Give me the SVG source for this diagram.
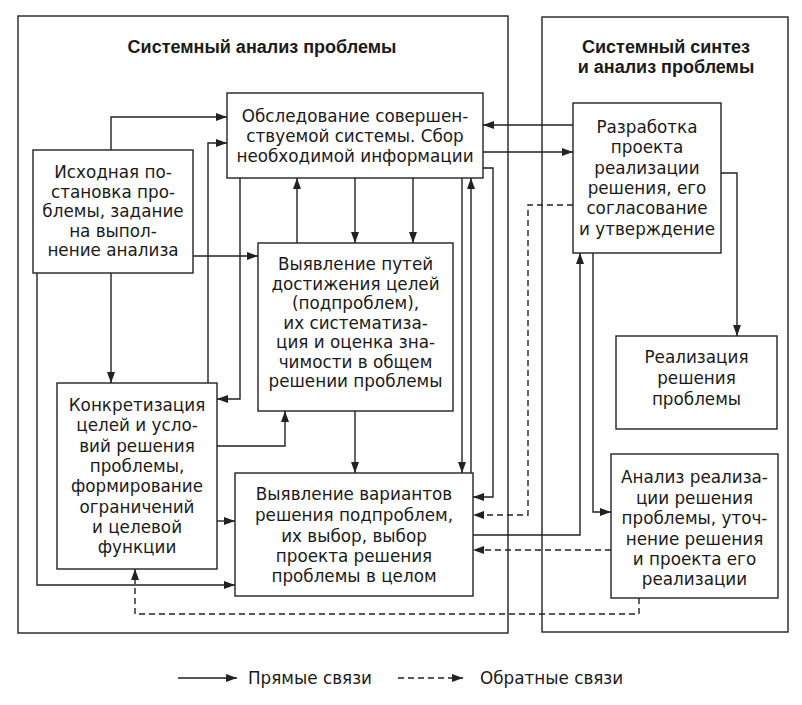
<svg xmlns="http://www.w3.org/2000/svg" width="802" height="705" viewBox="0 0 802 705">
<style>
.frame{fill:none;stroke:#222;stroke-width:1.4}
.box{fill:#fff;stroke:#222;stroke-width:1.4}
.t{font-family:"DejaVu Sans","Liberation Sans",sans-serif;font-size:16.8px;fill:#1a1a1a;text-anchor:middle}
.title{font-family:"Liberation Sans",Arial,sans-serif;font-size:18px;font-weight:bold;fill:#1a1a1a;text-anchor:middle}
.c{fill:none;stroke:#222;stroke-width:1.4;marker-end:url(#ah)}
.d{fill:none;stroke:#222;stroke-width:1.4;stroke-dasharray:6 4;marker-end:url(#ah)}
</style>
<defs>
<marker id="ah" markerUnits="userSpaceOnUse" markerWidth="11" markerHeight="8" refX="11" refY="4" orient="auto">
<path d="M0,0 L11,4 L0,8 z" fill="#222"/>
</marker>
</defs>
<rect width="802" height="705" fill="#fff"/>
<g id="frames">
<rect class="frame" x="18" y="16" width="490" height="617"/>
<rect class="frame" x="542" y="17" width="246" height="615"/>
<text class="title" x="262" y="53">Системный анализ проблемы</text>
<text class="title" x="666" y="53">Системный синтез</text>
<text class="title" x="666" y="73">и анализ проблемы</text>
</g>
<g id="connectors">
<path class="c" d="M111,150 V117 H227"/>
<path class="c" d="M208,383 V143 H227"/>
<path class="c" d="M240,178 V399 H217"/>
<path class="c" d="M297,243 V178"/>
<path class="c" d="M355,178 V243"/>
<path class="c" d="M413,178 V243"/>
<path class="c" d="M193,256 H258"/>
<path class="c" d="M111,273 V383"/>
<path class="c" d="M37,273 V585 H235"/>
<path class="c" d="M217,521 H235"/>
<path class="c" d="M217,446 H285 V411"/>
<path class="c" d="M355,411 V473"/>
<path class="c" d="M462,178 V473"/>
<path class="c" d="M471,473 V178"/>
<path class="c" d="M483,168 H493 V497 H473"/>
<path class="c" d="M573,125 H483"/>
<path class="c" d="M483,152 H573"/>
<path class="c" d="M473,535 H580 V253"/>
<path class="c" d="M593,253 V512 H611"/>
<path class="c" d="M721,173 H737 V336"/>
<path class="d" d="M573,205 H528 V515 H473"/>
<path class="d" d="M611,550 H473"/>
<path class="d" d="M639,598 V614 H135 V569"/>
</g>
<g id="n1">
<rect class="box" x="227" y="93" width="256" height="85"/>
<text class="t" x="355" y="122">Обследование совершен-</text>
<text class="t" x="355" y="142">ствуемой системы. Сбор</text>
<text class="t" x="355" y="162">необходимой информации</text>
</g>
<g id="n2">
<rect class="box" x="33" y="150" width="160" height="123"/>
<text class="t" x="113" y="178">Исходная по-</text>
<text class="t" x="113" y="197.5">становка про-</text>
<text class="t" x="113" y="217">блемы, задание</text>
<text class="t" x="113" y="236.5">на выпол-</text>
<text class="t" x="113" y="256">нение анализа</text>
</g>
<g id="n3">
<rect class="box" x="258" y="243" width="195" height="168"/>
<text class="t" x="355.5" y="270">Выявление путей</text>
<text class="t" x="355.5" y="289.5">достижения целей</text>
<text class="t" x="355.5" y="309">(подпроблем),</text>
<text class="t" x="355.5" y="328.5">их систематиза-</text>
<text class="t" x="355.5" y="348">ция и оценка зна-</text>
<text class="t" x="355.5" y="367.5">чимости в общем</text>
<text class="t" x="355.5" y="387">решении проблемы</text>
</g>
<g id="n4">
<rect class="box" x="57" y="383" width="160" height="186"/>
<text class="t" x="137" y="411">Конкретизация</text>
<text class="t" x="137" y="431">целей и усло-</text>
<text class="t" x="137" y="451.5">вий решения</text>
<text class="t" x="137" y="472">проблемы,</text>
<text class="t" x="137" y="492">формирование</text>
<text class="t" x="137" y="512.5">ограничений</text>
<text class="t" x="137" y="533">и целевой</text>
<text class="t" x="137" y="553">функции</text>
</g>
<g id="n5">
<rect class="box" x="235" y="473" width="238" height="123"/>
<text class="t" x="354" y="500">Выявление вариантов</text>
<text class="t" x="354" y="521">решения подпроблем,</text>
<text class="t" x="354" y="541.5">их выбор, выбор</text>
<text class="t" x="354" y="562">проекта решения</text>
<text class="t" x="354" y="582">проблемы в целом</text>
</g>
<g id="n6">
<rect class="box" x="573" y="103" width="148" height="150"/>
<text class="t" x="647" y="133">Разработка</text>
<text class="t" x="647" y="153">проекта</text>
<text class="t" x="647" y="173.5">реализации</text>
<text class="t" x="647" y="194">решения, его</text>
<text class="t" x="647" y="214">согласование</text>
<text class="t" x="647" y="234.5">и утверждение</text>
</g>
<g id="n7">
<rect class="box" x="616" y="336" width="161" height="93"/>
<text class="t" x="696.5" y="363">Реализация</text>
<text class="t" x="696.5" y="384">решения</text>
<text class="t" x="696.5" y="405">проблемы</text>
</g>
<g id="n8">
<rect class="box" x="611" y="454" width="167" height="144"/>
<text class="t" x="694.5" y="483">Анализ реализа-</text>
<text class="t" x="694.5" y="503.5">ции решения</text>
<text class="t" x="694.5" y="524">проблемы, уточ-</text>
<text class="t" x="694.5" y="544.5">нение решения</text>
<text class="t" x="694.5" y="565">и проекта его</text>
<text class="t" x="694.5" y="585">реализации</text>
</g>
<g id="legend">
<path class="c" d="M178,678 H237"/>
<text class="t" x="248" y="684" style="text-anchor:start">Прямые связи</text>
<path class="d" d="M398,678 H463"/>
<text class="t" x="480" y="684" style="text-anchor:start">Обратные связи</text>
</g>
</svg>
